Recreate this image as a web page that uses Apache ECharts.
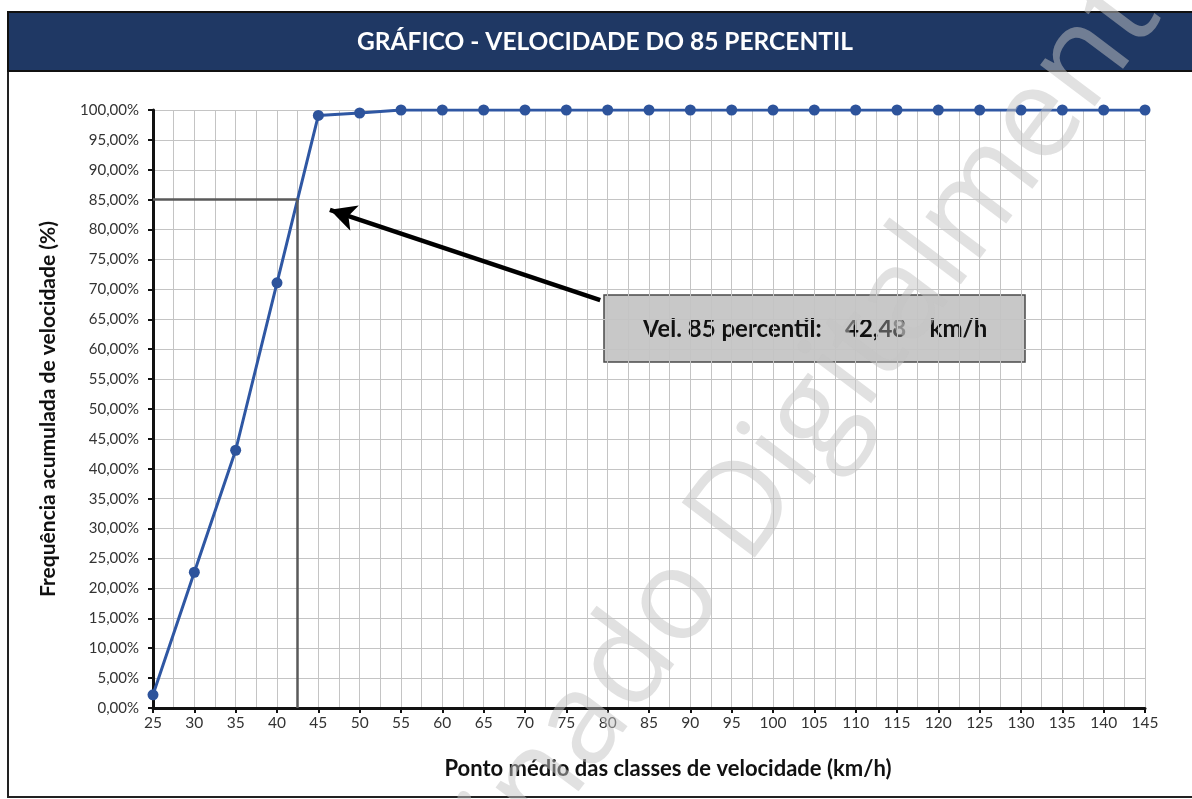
<!DOCTYPE html>
<html lang="pt">
<head>
	<meta charset="UTF-8">
	<title>Velocidade do 85 percentil</title>
	<script src="https://cdn.jsdelivr.net/npm/echarts@6/dist/echarts.min.js"></script>
	<style>
		html,body{width:100%;height:100%;margin:0;background:#fff;}
		#chart{width:1192px;height:799px;}
	</style>
</head>
<body>
	<div id="chart"></div>
<script>
	// pontos médios das classes de velocidade (km/h)
	var velocidades = [25, 30, 35, 40, 45, 50, 55, 60, 65, 70, 75, 80, 85, 90, 95, 100, 105, 110, 115, 120, 125, 130, 135, 140, 145];
	// frequência acumulada (fração)
	var frequencia = [0.022, 0.227, 0.431, 0.711, 0.991, 0.995, 1, 1, 1, 1, 1, 1, 1, 1, 1, 1, 1, 1, 1, 1, 1, 1, 1, 1, 1];
	var vel85 = 42.48;
	var perc85 = 0.85;
	// seta: início (caixa) e ponta
	var setaInicio = [79.1, 0.682];
	var setaFim = [46.4, 0.833];

	var font = 'Lato, "Open Sans", sans-serif';

	var pontos = [];
	for (var i = 0; i < velocidades.length; i++) {
		pontos.push([velocidades[i], frequencia[i]]);
	}

	var myChart = echarts.init(document.getElementById('chart'));
	var options = {
		animation: false,
		backgroundColor: '#fff',
		grid: {left: 153, right: 47, top: 110, bottom: 91},
		xAxis: {
			type: 'value',
			min: 25, max: 145, interval: 5,
			name: 'Ponto médio das classes de velocidade (km/h)',
			nameLocation: 'middle',
			nameGap: 50,
			nameTextStyle: {fontFamily: font, fontWeight: 'bold', fontSize: 22, color: '#111', padding: [0, 0, 0, 38]},
			axisLine: {lineStyle: {color: '#111', width: 3}},
			axisTick: {show: true, length: 5, lineStyle: {color: '#111', width: 2}},
			axisLabel: {fontFamily: font, fontSize: 15.5, color: '#333', margin: 7},
			splitLine: {show: true, lineStyle: {color: '#c4c4c4', width: 1}},
			minorTick: {show: false, splitNumber: 2},
			minorSplitLine: {show: true, lineStyle: {color: '#c4c4c4', width: 1}}
		},
		yAxis: {
			type: 'value',
			min: 0, max: 1, interval: 0.05,
			name: 'Frequência acumulada de velocidade (%)',
			nameLocation: 'middle',
			nameGap: 94,
			nameTextStyle: {fontFamily: font, fontWeight: 'bold', fontSize: 21, color: '#111'},
			axisLine: {show: true, lineStyle: {color: '#111', width: 3}},
			axisTick: {show: true, length: 5, lineStyle: {color: '#111', width: 2}},
			axisLabel: {
				fontFamily: font, fontSize: 15, color: '#333', margin: 14,
				formatter: function (v) { return (v * 100).toFixed(2).replace('.', ',') + '%'; }
			},
			splitLine: {show: true, lineStyle: {color: '#c4c4c4', width: 1}}
		},
		series: [
			{
				// linhas de referência do 85 percentil e seta
				type: 'line',
				data: [],
				z: 1,
				markLine: {
					silent: true,
					symbol: ['none', 'none'],
					label: {show: false},
					lineStyle: {color: '#5a5a5a', width: 2.5, type: 'solid'},
					data: [
						[{coord: [25, perc85]}, {coord: [vel85, perc85]}],
						[{coord: [vel85, 0]}, {coord: [vel85, perc85]}],
						[
							{coord: setaInicio, lineStyle: {color: '#000', width: 4.5}},
							{coord: setaFim, symbol: 'arrow', symbolSize: [20, 26]}
						]
					]
				}
			},
			{
				type: 'line',
				data: pontos,
				z: 3,
				symbol: 'circle',
				symbolSize: 11,
				lineStyle: {color: '#2f57a3', width: 3},
				itemStyle: {color: '#2d539b'}
			}
		],
		graphic: [
			{
				type: 'rect', z: -10, silent: true,
				shape: {x: 8, y: 12, width: 1200, height: 785},
				style: {fill: 'none', stroke: '#222', lineWidth: 2}
			},
			{
				type: 'rect', z: 10, silent: true,
				shape: {x: 8, y: 12, width: 1200, height: 59},
				style: {fill: '#1f3864', stroke: '#111', lineWidth: 2}
			},
			{
				type: 'text', z: 11, silent: true,
				x: 605, y: 42,
				style: {
					text: 'GRÁFICO - VELOCIDADE DO 85 PERCENTIL',
					fill: '#fff', font: 'bold 24.5px ' + font,
					align: 'center', verticalAlign: 'middle'
				}
			},
			{
				type: 'group', z: 20, silent: true,
				x: 604, y: 295,
				children: [
					{
						type: 'rect',
						shape: {x: 0, y: 0, width: 421, height: 67},
						style: {fill: '#c8c8c8', stroke: '#4a4a4a', lineWidth: 1.5}
					},
					{
						type: 'text',
						x: 211, y: 34,
						style: {
							text: '{a|Vel. 85 percentil:    42,}{b|48}{a|    km/h}',
							align: 'center', verticalAlign: 'middle',
							rich: {
								a: {fontFamily: font, fontWeight: 'bold', fontSize: 24, fill: '#111'},
								b: {fontFamily: font, fontWeight: 'bold', fontSize: 24, fill: '#555'}
							}
						}
					}
				]
			},
			{
				type: 'text', z: 100, silent: true,
				x: 775, y: 470,
				rotation: 53 * Math.PI / 180,
				style: {
					text: 'Assinado Digitalmente',
					fill: 'rgba(195,195,195,0.5)',
					font: '128px "Open Sans", sans-serif',
					align: 'center', verticalAlign: 'middle'
				}
			}
		]
	};
	myChart.setOption(options);
</script>
</body>
</html>
